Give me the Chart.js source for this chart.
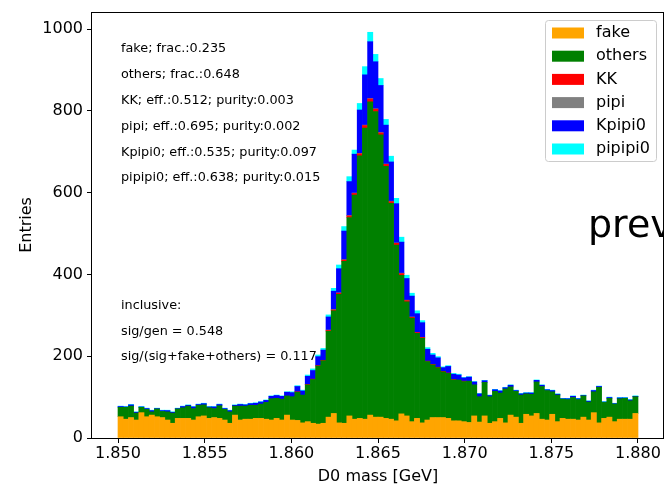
<!DOCTYPE html>
<html><head><meta charset="utf-8">
<script src="https://cdn.jsdelivr.net/npm/chart.js@4"></script>
<style>html,body{margin:0;padding:0;background:#fff;overflow:hidden}#wrap{width:664px;height:486px;position:relative}</style>
</head><body><div id="wrap"><canvas id="c" width="664" height="486"></canvas></div>
<script>
// histogram definition: 100 bins from 1.850 to 1.880 GeV
const histRange = [1.850, 1.880];
const nBins = 100;

const fake = [52,46,50,44,62,52,56,52,50,44, 36,48,48,48,44,52,54,48,50,48,
  44,36,56,44,46,46,48,48,46,44, 48,44,56,44,43,37,40,36,34,36,
  51,60,37,36,54,46,48,46,56,51, 51,48,46,42,59,54,40,48,37,44,
  50,50,50,48,42,42,40,38,54,39, 54,36,40,48,37,56,51,36,58,54,
  60,46,44,58,40,48,46,46,44,51, 44,62,37,48,51,40,46,46,46,60];
const others = [23,29,28,17,13,18,8,19,15,20, 25,23,26,30,28,28,27,26,22,31,
  26,28,22,34,32,34,32,35,41,52, 49,51,47,57,69,68,90,107,142,153,
  210,251,314,396,485,548,642,712,766,747, 690,616,528,430,339,279,253,208,207,143,
  129,122,112,110,100,100,98,101,76,62, 82,65,74,62,83,69,63,69,50,53,
  77,80,72,55,65,47,48,53,50,52, 44,51,87,39,46,43,50,51,45,41];
const KK = [0,0,0,0,0,0,0,0,0,0, 0,0,0,0,0,0,0,0,0,0,
  0,0,0,0,0,0,0,0,0,0, 0,0,0,0,1,0,1,1,1,1,
  2,2,3,3,4,4,5,6,7,6, 5,5,4,4,4,3,2,2,2,1,
  1,1,1,1,1,0,1,0,0,0, 0,0,0,0,0,0,0,0,0,0,
  0,0,0,0,0,0,0,0,0,0, 0,0,0,0,0,0,0,0,0,0];
const pipi = [0,0,0,0,0,0,0,0,0,0, 0,0,0,0,0,0,0,0,0,0,
  0,0,0,0,0,0,0,0,0,0, 0,0,0,0,0,0,0,0,0,0,
  1,1,1,1,1,1,1,1,1,1, 1,1,1,1,1,1,1,0,0,0,
  0,0,0,0,0,0,0,0,0,0, 0,0,0,0,0,0,0,0,0,0,
  0,0,0,0,0,0,0,0,0,0, 0,0,0,0,0,0,0,0,0,0];
const Kpipi0 = [2,1,3,2,1,2,3,1,2,3, 2,1,3,2,4,2,3,2,4,3,
  2,3,2,4,3,4,5,5,5,6, 7,7,9,10,13,10,20,21,22,25,
  32,45,59,70,83,95,106,123,139,115, 115,95,96,96,76,53,51,46,36,29,
  23,23,9,16,13,12,8,10,7,7, 4,3,4,5,3,4,2,3,2,3,
  4,3,2,3,2,1,2,3,2,1, 2,3,2,1,2,1,2,1,2,1];
const pipipi0 = [1,1,1,1,1,1,1,1,1,1, 1,1,1,1,1,1,1,1,1,1,
  1,1,1,1,1,1,1,1,1,1, 1,1,1,2,2,2,3,4,4,4,
  5,7,9,11,12,10,16,20,23,18, 17,14,14,13,12,8,7,7,5,4,
  4,3,2,2,2,2,1,1,1,1, 1,1,1,1,1,1,1,1,1,1,
  1,1,1,1,1,1,1,1,1,1, 1,1,1,1,1,1,1,1,1,1];

const seriesNames = ['fake','others','KK','pipi','Kpipi0','pipipi0'];
const seriesColors = ['#FFA500','#008000','#FF0000','#808080','#0000FF','#00FFFF'];
const xTicks = [1.850,1.855,1.860,1.865,1.870,1.875,1.880];
const yTicks = [0,200,400,600,800,1000];
const notes = ['fake; frac.:0.235','others; frac.:0.648','KK; eff.:0.512; purity:0.003',
  'pipi; eff.:0.695; purity:0.002','Kpipi0; eff.:0.535; purity:0.097','pipipi0; eff.:0.638; purity:0.015'];
const inclusiveNotes = ['inclusive:','sig/gen = 0.548','sig/(sig+fake+others) = 0.117'];
const watermark = 'preview';

const FONT = "'DejaVu Sans', 'Liberation Sans', sans-serif";
const series = [fake, others, KK, pipi, Kpipi0, pipipi0];
const binW = (histRange[1]-histRange[0])/nBins;
const centers = fake.map((_, i) => histRange[0] + binW*(i+0.5));
const xPad = (histRange[1]-histRange[0])*0.05;
const yMax = Math.max(...centers.map((_, i) => series.reduce((s, a) => s + a[i], 0))) * 1.05;

const datasets = series.map((arr, k) => ({
  label: seriesNames[k],
  data: arr.map((v, i) => ({x: centers[i], y: v === 0 ? null : v})),
  backgroundColor: seriesColors[k],
  borderWidth: 0,
  barPercentage: 1.0,
  categoryPercentage: 1.0
}));

const decor = {
  id: 'decor',
  afterDraw(chart) {
    const ctx = chart.ctx, a = chart.chartArea;
    ctx.save();
    // notes
    ctx.fillStyle = '#000';
    ctx.font = '12.8px ' + FONT;
    ctx.textBaseline = 'middle';
    ctx.textAlign = 'left';
    notes.forEach((t, i) => ctx.fillText(t, a.left + 29, a.top + 37 + i*25.8));
    inclusiveNotes.forEach((t, i) => ctx.fillText(t, a.left + 29, a.top + 294 + i*25.5));
    // legend
    const lx = a.left + 453, ly = a.top + 8, lw = 111, lh = 141;
    ctx.beginPath();
    ctx.roundRect(lx + 0.5, ly + 0.5, lw, lh, 3);
    ctx.fillStyle = 'rgba(255,255,255,0.8)';
    ctx.fill();
    ctx.strokeStyle = '#cccccc';
    ctx.lineWidth = 1;
    ctx.stroke();
    ctx.font = '16px ' + FONT;
    chart.data.datasets.forEach((ds, i) => {
      const cy = ly + 13 + i*23.2;
      ctx.fillStyle = ds.backgroundColor;
      ctx.fillRect(lx + 7, cy - 5.5, 32, 11);
      ctx.fillStyle = '#000';
      ctx.fillText(ds.label, lx + 51, cy);
    });
    // frame
    ctx.strokeStyle = '#000';
    ctx.lineWidth = 1;
    ctx.strokeRect(Math.round(a.left) - 0.5, Math.round(a.top) + 0.5, Math.round(a.right - a.left), Math.round(a.bottom - a.top));
    // watermark text
    ctx.font = '38px ' + FONT;
    ctx.textBaseline = 'alphabetic';
    ctx.fillText(watermark, 588, 237);
    ctx.restore();
  }
};

new Chart(document.getElementById('c'), {
  type: 'bar',
  data: { datasets },
  options: {
    responsive: false,
    devicePixelRatio: 1,
    animation: false,
    layout: { padding: { left: 0, right: 0, top: 12, bottom: 0 } },
    plugins: { legend: { display: false }, tooltip: { enabled: false } },
    scales: {
      x: {
        type: 'linear', stacked: true, offset: false,
        min: histRange[0] - xPad, max: histRange[1] + xPad,
        afterBuildTicks: s => { s.ticks = xTicks.map(v => ({value: v})); },
        afterFit: s => { s.height = 48; s.paddingLeft = 0; s.paddingRight = 0; },
        grid: { display: true, drawOnChartArea: false, drawTicks: true, tickLength: 5, color: '#000', offset: false },
        border: { display: false },
        ticks: { color: '#000', font: { family: FONT, size: 16 }, padding: 1, maxRotation: 0,
          callback: v => Number(v).toFixed(3) },
        title: { display: true, text: 'D0 mass [GeV]', color: '#000', font: { family: FONT, size: 16 }, padding: { top: 0, bottom: 0 } }
      },
      y: {
        stacked: true, min: 0, max: yMax,
        afterBuildTicks: s => { s.ticks = yTicks.map(v => ({value: v})); },
        afterFit: s => { s.width = 92; s.paddingTop = 0; s.paddingBottom = 0; },
        grid: { display: true, drawOnChartArea: false, drawTicks: true, tickLength: 5, color: '#000' },
        border: { display: false },
        ticks: { color: '#000', font: { family: FONT, size: 16 }, padding: 4,
          callback: v => String(v) },
        title: { display: true, text: 'Entries', color: '#000', font: { family: FONT, size: 16 }, padding: { top: 17, bottom: 0 } }
      }
    }
  },
  plugins: [decor]
});
</script>
</body></html>
